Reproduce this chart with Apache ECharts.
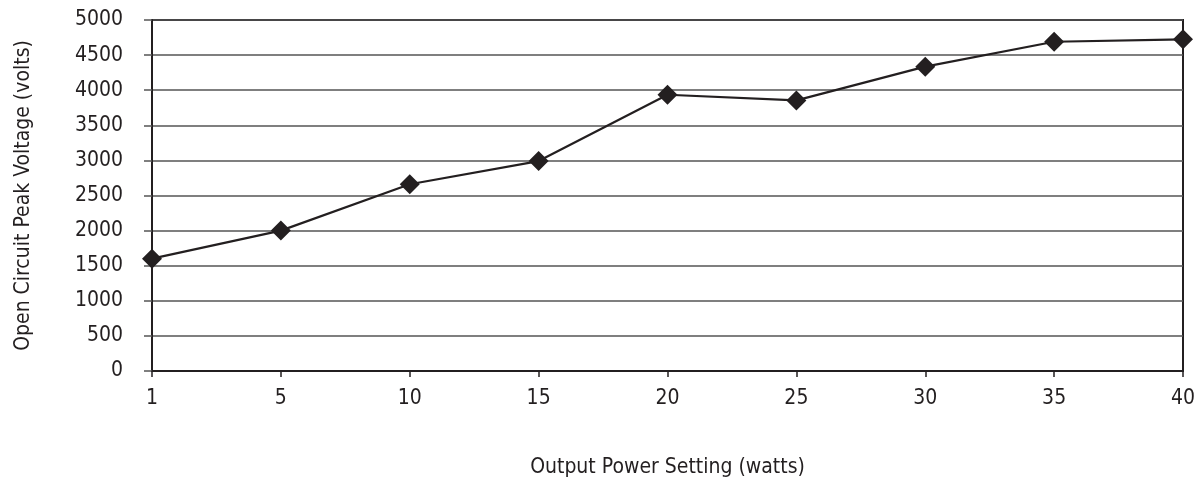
<!DOCTYPE html>
<html><head><meta charset="utf-8">
<script src="https://cdn.jsdelivr.net/npm/echarts@6/dist/echarts.min.js"></script>
<style>html,body{margin:0;padding:0;background:#fff}#c{width:1202px;height:483px}</style>
</head><body><div id="c"></div>
<script>
const categories = ['1','5','10','15','20','25','30','35','40'];
const voltage = [1600, 2000, 2660, 2990, 3935, 3855, 4335, 4690, 4725];
const yTicks = {min: 0, max: 5000, interval: 500};
const FONT = "'Liberation Sans Narrow', 'DejaVu Sans Condensed', 'Liberation Sans', sans-serif";
const ink = '#231f20';
const chart = echarts.init(document.getElementById('c'), null, {renderer: 'canvas'});
chart.setOption({
  animation: false,
  grid: {left: 152, right: 19, top: 20, bottom: 112, outerBoundsMode: 'none', containLabel: false,
         show: true, borderColor: ink, borderWidth: 2, backgroundColor: 'transparent'},
  xAxis: {
    type: 'category', data: categories, boundaryGap: false,
    name: 'Output Power Setting (watts)', nameLocation: 'middle', nameGap: 86,
    nameTextStyle: {fontFamily: FONT, fontSize: 21, color: ink},
    axisLine: {lineStyle: {color: ink, width: 2}},
    axisTick: {show: true, length: 6, lineStyle: {color: ink, width: 1.5}},
    axisLabel: {fontFamily: FONT, fontSize: 21, color: ink, margin: 17},
    splitLine: {show: false}
  },
  yAxis: {
    type: 'value', min: yTicks.min, max: yTicks.max, interval: yTicks.interval,
    name: 'Open Circuit Peak Voltage (volts)', nameLocation: 'middle', nameGap: 118, nameRotate: 90,
    nameTextStyle: {fontFamily: FONT, fontSize: 21, color: ink},
    axisLine: {show: true, lineStyle: {color: ink, width: 2}},
    axisTick: {show: true, length: 8, lineStyle: {color: '#555', width: 1.5}},
    axisLabel: {fontFamily: FONT, fontSize: 21, color: ink, margin: 29, formatter: v => String(v)},
    splitLine: {show: true, lineStyle: {color: '#555', width: 1.5}}
  },
  series: [{
    type: 'line', data: voltage, symbol: 'diamond', symbolSize: 20,
    lineStyle: {color: ink, width: 2.2},
    itemStyle: {color: ink},
    z: 5
  }]
});
</script></body></html>
